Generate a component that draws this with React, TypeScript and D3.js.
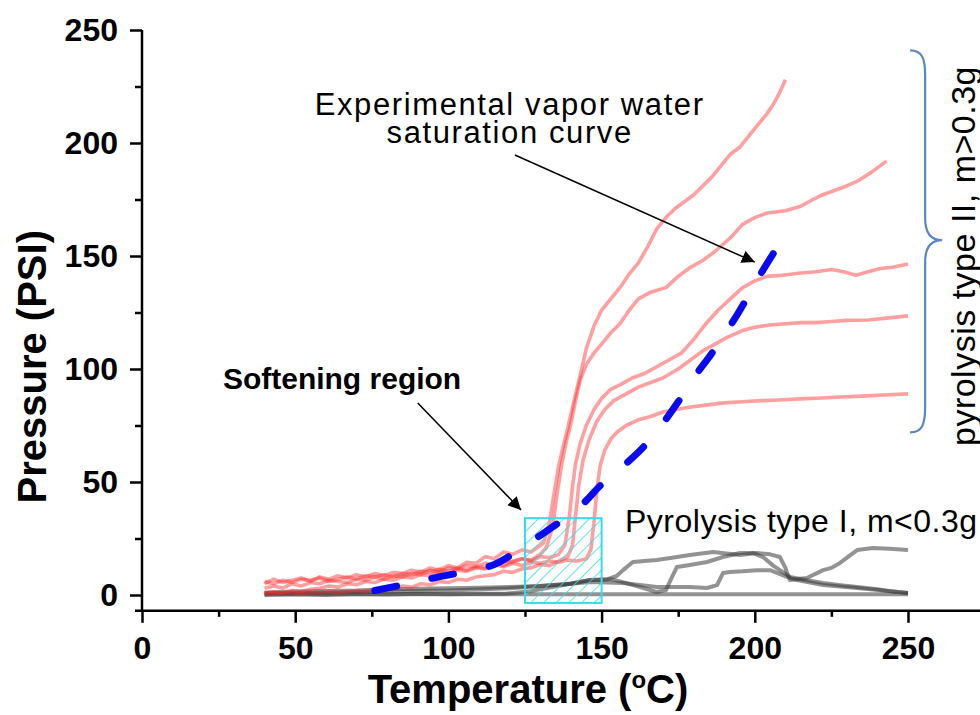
import React, { useEffect, useRef } from 'react';
import * as d3 from 'd3';

type Pt = [number, number];

const FONT = '"Liberation Sans", Arial, Helvetica, sans-serif';

const xTicks = [0, 50, 100, 150, 200, 250];
const xMinorTicks = [25, 75, 125, 175, 225, 275];
const yTicks = [0, 50, 100, 150, 200, 250];
const yMinorTicks = [25, 75, 125, 175, 225];

// pyrolysis type II (m > 0.3 g) runs, [temperature C, pressure PSI]
const runII1: Pt[] = [
  [40, 5], [43, 7], [46, 5.5], [49, 6.5], [52, 7.5], [55, 6], [58, 8], [61, 7], [64, 8.5], [67, 7.5],
  [70, 9], [73, 8], [76, 9.5], [79, 8.5], [82, 10], [85, 9.5], [88, 11], [91, 10], [94, 12], [97, 11],
  [100, 13], [103, 12], [106, 14.5], [109, 14], [112, 17], [115, 16], [118, 19], [121, 18], [124, 20],
  [127, 19], [129, 21], [131, 23], [133, 32], [134.5, 45], [136, 57], [137.5, 66], [139, 74], [141, 86],
  [143, 97], [145, 109], [147.5, 119], [150, 126], [153, 131], [156, 136], [159, 142], [162, 147],
  [165, 154], [168, 162], [171, 167], [174, 171], [177, 174], [180, 177], [183, 181], [186, 185],
  [189, 190], [192, 195], [195, 198], [198, 203], [201, 208], [204, 213], [206, 217], [208, 222], [210, 228],
];
const runII2: Pt[] = [
  [40, 1], [43, 1.5], [46, 1], [49, 2], [52, 1.5], [55, 2.5], [58, 3], [61, 4], [64, 3.5], [67, 5],
  [70, 4.5], [73, 6], [76, 5.5], [79, 7], [82, 6.5], [85, 8], [88, 7.5], [91, 9], [94, 8.5], [97, 10],
  [100, 9.5], [103, 11], [106, 10.5], [109, 12], [112, 11.5], [115, 14], [118, 13], [121, 15], [124, 16],
  [127, 15.5], [130, 18], [132, 21], [134, 30], [135.5, 45], [137, 58], [138.5, 68], [140, 76],
  [141.5, 86], [143, 95], [145, 102], [147.5, 107], [150, 111], [153, 116], [156, 120], [159, 126],
  [162, 131], [166, 134], [171, 136], [175, 141], [179, 145], [183, 148], [187, 152], [192, 158],
  [196, 164], [200, 167], [204, 169], [210, 170], [215, 172], [219, 175], [222, 177], [226, 179],
  [230, 181], [234, 183.5], [238, 187], [241, 190], [243, 192],
];
const runII3: Pt[] = [
  [40, 3], [43, 4], [46, 3], [49, 5], [52, 4], [55, 5.5], [58, 5], [61, 6.5], [64, 6], [67, 5.5],
  [70, 7], [73, 6.5], [76, 8], [79, 7], [82, 8.5], [85, 8], [88, 9.5], [91, 9], [94, 11], [97, 10],
  [100, 12], [103, 11.5], [106, 13], [109, 12.5], [112, 14], [115, 13], [118, 15], [121, 14.5],
  [124, 16], [127, 15], [130, 17], [133, 16.5], [136, 18], [138, 22], [139.5, 35], [140.5, 48],
  [141.5, 58], [143, 67], [145, 75], [147.5, 82], [150, 87], [153, 91], [156, 93], [160, 96],
  [164, 98], [168, 101], [172, 104], [176, 107], [180, 113], [184, 120], [188, 126], [192, 131],
  [196, 136], [200, 139], [204, 141], [209, 141.5], [215, 142.5], [220, 143], [225, 144], [229, 143],
  [233, 141.5], [237, 143], [241, 144.5], [245, 145], [250, 146.5],
];
const runII4: Pt[] = [
  [40, 1], [43, 0.5], [46, 1], [49, 1], [52, 0.5], [55, 1], [58, 1], [61, 1.5], [64, 1], [67, 1.5],
  [70, 2], [73, 1.5], [76, 2.5], [79, 3], [82, 2.5], [85, 4], [88, 3.5], [91, 5], [94, 4.5], [97, 6],
  [100, 5.5], [103, 7], [106, 6.5], [109, 8], [112, 8.5], [115, 9], [118, 10.5], [121, 10], [124, 11.5],
  [127, 12], [130, 13.5], [133, 13], [136, 15], [139, 17], [140.5, 22], [141.5, 35], [142.5, 48],
  [144, 60], [146, 69], [148.5, 77], [151, 82], [154, 86], [158, 89], [162, 92], [166, 94], [170, 96],
  [175, 100], [179, 104], [183, 108], [187, 111], [191, 114], [196, 117], [200, 118.5], [205, 119.5],
  [210, 120], [215, 120.5], [220, 120.5], [225, 121], [230, 121.5], [237, 121.7], [243, 122.5], [250, 123.5],
];
const runII5: Pt[] = [
  [40, 6], [43, 5], [46, 6.5], [49, 5.5], [52, 7], [55, 6.5], [58, 7.5], [61, 6], [64, 7], [67, 8],
  [70, 7], [73, 8.5], [76, 8], [79, 9], [82, 8], [85, 9.5], [88, 9], [91, 10.5], [94, 10], [97, 11.5],
  [100, 10.5], [103, 12], [106, 11], [109, 12.5], [112, 12], [115, 13.5], [118, 12.5], [121, 14],
  [124, 13], [127, 14.5], [130, 14], [133, 15], [136, 14.5], [139, 15.5], [142, 15], [145, 16],
  [146.5, 20], [147.5, 32], [148.5, 47], [149.5, 57], [151, 64], [153, 69], [155, 72], [158, 75],
  [162, 77.5], [166, 79], [170, 81], [174, 82], [178, 83], [184, 84], [190, 85], [196, 85.5], [202, 86],
  [208, 86.3], [215, 86.8], [222, 87.2], [228, 87.6], [235, 88], [242, 88.5], [250, 89],
];
const typeII = [runII1, runII2, runII3, runII4, runII5];

// pyrolysis type I (m < 0.3 g) runs
const runI1: Pt[] = [[40, 0.3], [100, 0.3], [180, 0.3], [250, 0.3]];
const runI2: Pt[] = [
  [40, 0], [50, 0.3], [60, 0], [70, 0.4], [80, 0.2], [90, 0.5], [100, 0.3], [110, 0.6], [118, 0.5],
  [122, 1], [126, 1.5], [130, 2.5], [134, 3.5], [138, 4.5], [142, 5.5], [146, 6.5], [150, 6.8],
  [153, 7], [156, 6], [160, 4.5], [164, 3], [168, 1.3], [171, 2.2], [173, 8], [174.6, 12.4],
  [178.8, 13.3], [184.4, 14.6], [189.6, 16.8], [195.2, 18.6], [199.4, 18.6], [202.7, 16.8], [206, 13],
  [211.5, 8], [217, 6.5], [222.3, 5.3], [228, 4.3], [233.4, 3.5], [240, 2.5], [245, 1.5], [250, 0.9],
];
const runI3: Pt[] = [
  [40, 1], [50, 1.5], [60, 1.8], [70, 2], [80, 2.5], [90, 2.8], [100, 3], [110, 3.2], [120, 3.5],
  [130, 4], [140, 5], [146, 6.6], [152, 7], [155, 8.5], [157, 11], [160.2, 14.6], [164, 15], [168, 15.5],
  [173, 16.5], [178.8, 17.7], [186.4, 19], [190, 18.5], [195.2, 17.7], [200.7, 18.6], [205, 18],
  [208.2, 16.8], [210, 12], [210.5, 9.7], [211.5, 6.6], [217, 7.5], [222.3, 11], [225, 12],
  [227.8, 14.2], [233.4, 19.9], [238.6, 20.8], [244, 20.5], [250, 19.9],
];
const runI4: Pt[] = [
  [40, 0.8], [60, 1], [80, 1.5], [100, 2], [120, 3], [130, 4], [140, 5], [146.2, 5.8], [157, 5.3],
  [168, 3.5], [178.8, 3.5], [184.4, 3.1], [187.7, 4.4], [189.6, 9.7], [191.9, 10.2], [196, 10.5],
  [200.7, 11], [205, 11], [210.5, 8], [213.8, 6.6], [222.3, 4.4], [233.4, 3.1], [242, 2], [250, 0.9],
];
const typeI = [runI1, runI2, runI3, runI4];

// experimental vapor water saturation curve
const saturation: Pt[] = [
  [76, 2], [85, 4.5], [95, 7.5], [105, 10.2], [115, 13.5], [122, 19], [129, 25.5], [136, 32],
  [144, 40.5], [150, 49], [157, 57], [164, 66], [170, 76], [175, 85.5], [180, 96], [186, 107],
  [191, 117], [196, 128], [201, 140], [206, 151],
];

// softening region box [T, P] corners
const softening: Pt[] = [[125, -3.5], [150, 34]];

export default function App() {
  const xAxisRef = useRef<SVGGElement>(null);
  const xMinorRef = useRef<SVGGElement>(null);
  const yAxisRef = useRef<SVGGElement>(null);
  const yMinorRef = useRef<SVGGElement>(null);
  const satRef = useRef<SVGPathElement>(null);

  const x = d3.scaleLinear().domain([0, 280]).range([142, 142 + 280 * 3.064]);
  const y = d3.scaleLinear().domain([0, 250]).range([595, 30]);
  const axisY = y(-7);

  useEffect(() => {
    const styleAxis = (g: any) => {
      g.select('.domain').remove();
      g.selectAll('line').attr('stroke', '#000').attr('stroke-width', 2.5);
      g.selectAll('text')
        .attr('fill', '#000')
        .attr('font-size', 32)
        .attr('font-weight', 'bold')
        .attr('font-family', FONT);
    };
    const gx = d3.select(xAxisRef.current);
    gx.selectAll('*').remove();
    gx.call(d3.axisBottom(x).tickValues(xTicks).tickSize(12).tickSizeOuter(0).tickPadding(13).tickFormat(d3.format('d')) as any);
    styleAxis(gx);

    const gxm = d3.select(xMinorRef.current);
    gxm.selectAll('*').remove();
    gxm.call(d3.axisBottom(x).tickValues(xMinorTicks).tickSize(6).tickSizeOuter(0).tickFormat(() => '') as any);
    styleAxis(gxm);

    const gy = d3.select(yAxisRef.current);
    gy.selectAll('*').remove();
    gy.call(d3.axisLeft(y).tickValues(yTicks).tickSize(12).tickSizeOuter(0).tickPadding(12).tickFormat(d3.format('d')) as any);
    styleAxis(gy);

    const gym = d3.select(yMinorRef.current);
    gym.selectAll('*').remove();
    gym.call(d3.axisLeft(y).tickValues(yMinorTicks).tickSize(7).tickSizeOuter(0).tickFormat(() => '') as any);
    styleAxis(gym);

    // fit the dash pattern so the curve starts and ends on a dash (10 dashes)
    const p = satRef.current;
    if (p) {
      const L = p.getTotalLength();
      const dash = 22;
      const n = 10;
      const gap = (L - n * dash) / (n - 1);
      p.setAttribute('stroke-dasharray', `${dash} ${gap}`);
    }
  }, []);

  const line = d3.line<Pt>().x((d) => x(d[0])).y((d) => y(d[1]));
  const smooth = d3.line<Pt>().x((d) => x(d[0])).y((d) => y(d[1])).curve(d3.curveCatmullRom);

  const [s0, s1] = softening;
  const rx = x(s0[0]);
  const ry = y(s1[1]);
  const rw = x(s1[0]) - x(s0[0]);
  const rh = y(s0[1]) - y(s1[1]);

  // curly brace for type II group
  const bx = x(250.7);
  const bTop = y(241);
  const bTip = y(157);
  const bBot = y(72);
  const brace =
    `M${bx},${bTop} C${bx + 12},${bTop} ${bx + 15},${bTop + 8} ${bx + 15},${bTop + 25} ` +
    `L${bx + 15},${bTip - 22} C${bx + 15},${bTip - 6} ${bx + 22},${bTip} ${bx + 32},${bTip} ` +
    `C${bx + 22},${bTip} ${bx + 15},${bTip + 6} ${bx + 15},${bTip + 22} ` +
    `L${bx + 15},${bBot - 25} C${bx + 15},${bBot - 8} ${bx + 12},${bBot} ${bx},${bBot}`;

  return (
    <div style={{ position: 'absolute', left: 0, top: 0, background: '#fff' }}>
      <svg width={980} height={715} style={{ display: 'block' }} fontFamily={FONT}>
        <defs>
          <pattern id="hatch" width={9} height={9} patternUnits="userSpaceOnUse" patternTransform="rotate(45)">
            <line x1={0} y1={0} x2={0} y2={9} stroke="#35dde8" strokeWidth={1.6} />
          </pattern>
          <marker id="arrow" viewBox="0 0 10 10" refX={10} refY={5} markerWidth={13} markerHeight={13}
            markerUnits="userSpaceOnUse" orient="auto">
            <path d="M0,0 L10,5 L0,10 z" fill="#000" />
          </marker>
        </defs>

        {typeI.map((d, i) => (
          <path key={'g' + i} d={line(d) || ''} fill="none" stroke="#3a3a3a" strokeOpacity={0.55}
            strokeWidth={4} strokeLinejoin="round" />
        ))}
        {typeII.map((d, i) => (
          <path key={'r' + i} d={line(d) || ''} fill="none" stroke="#ff2a2a" strokeOpacity={0.45}
            strokeWidth={3.6} strokeLinejoin="round" />
        ))}

        <rect x={rx} y={ry} width={rw} height={rh} fill="url(#hatch)" stroke="#35dde8" strokeWidth={2} />

        <path ref={satRef} d={smooth(saturation) || ''} fill="none" stroke="#0a0aee" strokeWidth={7}
          strokeLinecap="round" strokeDasharray="22 36" />

        {/* axes */}
        <line x1={x(-2.3)} x2={980} y1={axisY} y2={axisY} stroke="#000" strokeWidth={2.5} />
        <line x1={x(0)} x2={x(0)} y1={y(250)} y2={axisY} stroke="#000" strokeWidth={2.5} />
        <g ref={xAxisRef} transform={`translate(0,${axisY})`} />
        <g ref={xMinorRef} transform={`translate(0,${axisY})`} />
        <g ref={yAxisRef} transform={`translate(${x(0)},0)`} />
        <g ref={yMinorRef} transform={`translate(${x(0)},0)`} />

        <text transform={`translate(46,${y(101)}) rotate(-90)`} textAnchor="middle" fontSize={40}
          fontWeight="bold" fill="#000">Pressure (PSI)</text>
        <text x={528} y={703} textAnchor="middle" fontSize={40} fontWeight="bold" fill="#000">
          Temperature (<tspan fontSize={24} dy={-15}>o</tspan><tspan dy={15}>C)</tspan>
        </text>

        {/* annotations */}
        <text x={x(26.4)} y={y(91)} fontSize={30} fontWeight="bold" fill="#000">Softening region</text>
        <line x1={x(90)} y1={y(85)} x2={x(123.7)} y2={y(37.6)} stroke="#000" strokeWidth={1.5}
          markerEnd="url(#arrow)" />

        <text x={x(120)} y={y(212.4)} textAnchor="middle" fontSize={31} letterSpacing={1.6} fill="#000">
          Experimental vapor water
        </text>
        <text x={x(120)} y={y(200)} textAnchor="middle" fontSize={31} letterSpacing={1.6} fill="#000">
          saturation curve
        </text>
        <line x1={x(121.7)} y1={y(194.7)} x2={x(200)} y2={y(147.3)} stroke="#000" strokeWidth={1.5}
          markerEnd="url(#arrow)" />

        <text x={625} y={532} fontSize={32} letterSpacing={0.5} fill="#000">Pyrolysis type I, m&lt;0.3g</text>

        <path d={brace} fill="none" stroke="#5a86c4" strokeWidth={2.2} />
        <text transform={`translate(975,${y(150)}) rotate(-90)`} textAnchor="middle" fontSize={34}
          letterSpacing={0.5} fill="#000">pyrolysis type II, m&gt;0.3g</text>
      </svg>
    </div>
  );
}
